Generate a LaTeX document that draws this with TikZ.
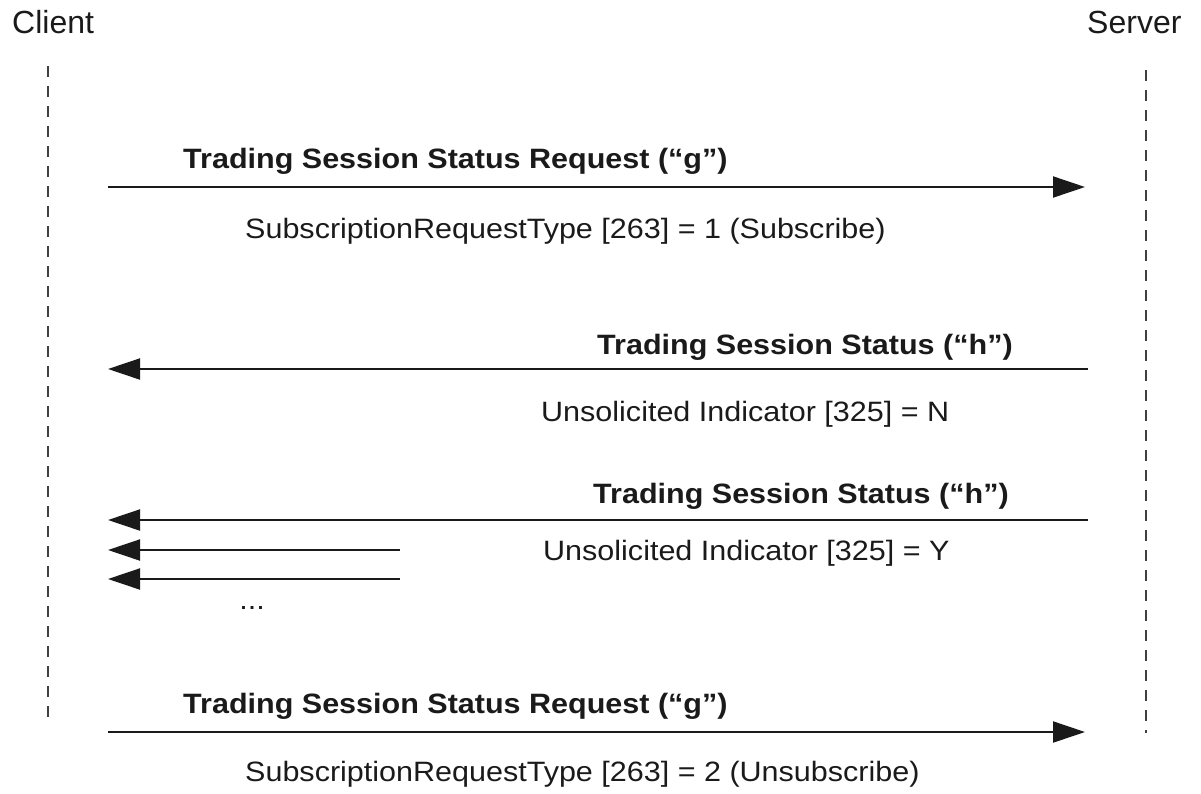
\documentclass[tikz,border=0pt]{standalone}
\usepackage{fontspec}
\setmainfont{Liberation Sans}
\newfontfamily\msgfont[FakeStretch=1.09]{Liberation Sans}
\usetikzlibrary{arrows.meta}
\definecolor{ink}{HTML}{1A1A1A}
\tikzset{
  msg/.style={-{Triangle[length=32pt,width=21pt]}, line width=2pt, draw=ink},
  life/.style={line width=2.5pt, draw=black!75, dash pattern=on 11pt off 9pt},
  actor/.style={anchor=base west, inner sep=0pt, text=ink, font=\fontsize{32}{34}\selectfont},
  title/.style={anchor=base west, inner sep=0pt, text=ink, font=\msgfont\bfseries\fontsize{28}{30}\selectfont},
  note/.style={anchor=base west, inner sep=0pt, text=ink, font=\msgfont\fontsize{28}{30}\selectfont}
}
\begin{document}
\begin{tikzpicture}[x=1pt,y=-1pt]
\useasboundingbox (0,0) rectangle (1201,793);
% actors
\node[actor] (client) at (12,33) {Client};
\node[actor] (server) at (1087,33) {Server};
% lifelines
\coordinate (c0) at (48,66);
\coordinate (c1) at (48,726);
\coordinate (s0) at (1146,70);
\coordinate (s1) at (1146,733);
\draw[life] (c0) -- (c1);
\draw[life] (s0) -- (s1);
% message 1
\coordinate (a1s) at (108,187);
\coordinate (a1e) at (1085,187);
\draw[msg] (a1s) -- (a1e);
\node[title] (t1) at (183,168) {Trading Session Status Request (“g”)};
\node[note] (n1) at (245,238) {SubscriptionRequestType [263] = 1 (Subscribe)};
% message 2
\coordinate (a2s) at (1088,369);
\coordinate (a2e) at (108,369);
\draw[msg] (a2s) -- (a2e);
\node[title] (t2) at (597,354) {Trading Session Status (“h”)};
\node[note] (n2) at (541,421) {Unsolicited Indicator [325] = N};
% message 3
\coordinate (a3s) at (1088,520);
\coordinate (a3e) at (108,520);
\draw[msg] (a3s) -- (a3e);
\node[title] (t3) at (593,503) {Trading Session Status (“h”)};
\node[note] (n3) at (543,560) {Unsolicited Indicator [325] = Y};
\coordinate (a4s) at (400,550);
\coordinate (a4e) at (108,550);
\draw[msg] (a4s) -- (a4e);
\coordinate (a5s) at (400,579);
\coordinate (a5e) at (108,579);
\draw[msg] (a5s) -- (a5e);
\node[note, anchor=base] (dots) at (252,609) {...};
% message 4
\coordinate (a6s) at (108,732);
\coordinate (a6e) at (1085,732);
\draw[msg] (a6s) -- (a6e);
\node[title] (t4) at (183,713) {Trading Session Status Request (“g”)};
\node[note] (n4) at (245,781) {SubscriptionRequestType [263] = 2 (Unsubscribe)};
\end{tikzpicture}
\end{document}
